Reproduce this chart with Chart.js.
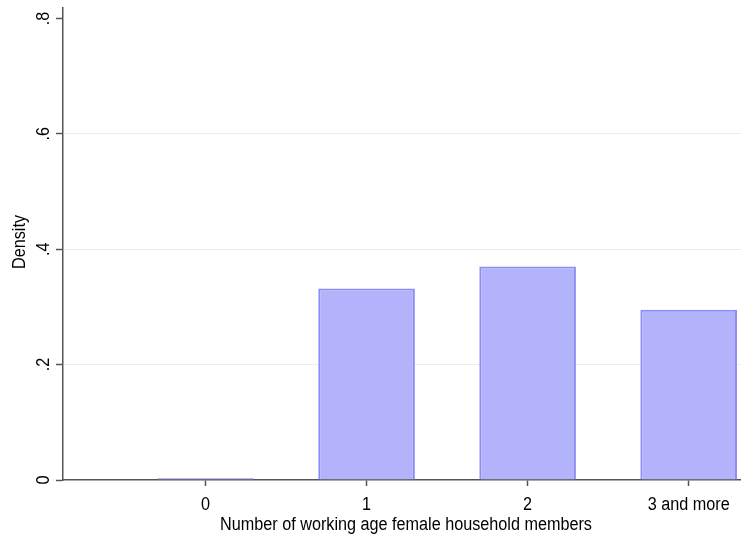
<!DOCTYPE html>
<html>
<head>
<meta charset="utf-8">
<script src="https://cdn.jsdelivr.net/npm/chart.js@4/dist/chart.umd.min.js"></script>
<style>
  html, body { margin: 0; padding: 0; background: #ffffff; }
  #wrap { width: 741px; height: 538px; }
</style>
</head>
<body>
<div id="wrap"><canvas id="c" width="741" height="538"></canvas></div>
<script>
// Share of households by number of working-age female members
const categories = ['0', '1', '2', '3 and more'];
const density = [0.003, 0.332, 0.370, 0.295];
const yTickValues = [0, 0.2, 0.4, 0.6, 0.8];
const yTickLabels = ['0', '.2', '.4', '.6', '.8'];
const xTitle = 'Number of working age female household members';
const yTitle = 'Density';

const FONT = '18px "Liberation Sans", Arial, Helvetica, sans-serif';
const SX = 0.9;          // horizontal squeeze for a narrow Helvetica look
const AXIS = '#555555';

function drawText(ctx, text, x, y, rot) {
  ctx.save();
  ctx.translate(x, y);
  ctx.rotate(rot);
  ctx.scale(SX, 1);
  ctx.textAlign = 'center';
  ctx.textBaseline = 'alphabetic';
  ctx.fillText(text, 0, 0);
  ctx.restore();
}

// Tick labels and axis titles, placed from the scales' own pixels
const textPlugin = {
  id: 'axisText',
  afterDraw(chart) {
    const xs = chart.scales.x;
    const ys = chart.scales.y;
    const ctx = chart.ctx;
    ctx.save();
    ctx.fillStyle = '#000000';
    ctx.font = FONT;
    ys.ticks.forEach((t, i) => {
      drawText(ctx, yTickLabels[i], ys.right - 14, ys.getPixelForValue(t.value), -Math.PI / 2);
    });
    xs.ticks.forEach((t, i) => {
      drawText(ctx, categories[i], xs.getPixelForValue(t.value), xs.top + 30, 0);
    });
    drawText(ctx, xTitle, (xs.left + xs.right) / 2 + 4, xs.top + 50, 0);
    drawText(ctx, yTitle, 25, (ys.top + ys.bottom) / 2 - 2, -Math.PI / 2);
    ctx.restore();
  }
};

new Chart(document.getElementById('c'), {
  type: 'bar',
  data: {
    datasets: [{
      data: density.map((v, i) => ({ x: i, y: v })),
      backgroundColor: '#b3b3fc',
      borderColor: '#8c8cf6',
      borderWidth: 2,
      barPercentage: 0.6,
      categoryPercentage: 1.0
    }]
  },
  options: {
    responsive: false,
    animation: false,
    layout: { padding: { top: 8, right: 0, bottom: 0, left: 0 } },
    plugins: { legend: { display: false }, tooltip: { enabled: false } },
    scales: {
      x: {
        type: 'linear',
        offset: false,
        min: -0.885,
        max: 3.325,
        afterBuildTicks: s => { s.ticks = categories.map((c, i) => ({ value: i })); },
        afterFit: s => { s.height = 58; },
        ticks: { display: false },
        grid: { offset: false, drawOnChartArea: false, drawTicks: true, tickLength: 6, tickColor: AXIS, tickWidth: 1.5 },
        border: { display: true, color: AXIS, width: 1.5 }
      },
      y: {
        type: 'linear',
        min: 0,
        max: 0.818,
        afterBuildTicks: s => { s.ticks = yTickValues.map(v => ({ value: v })); },
        afterFit: s => { s.width = 63; },
        ticks: { display: false },
        grid: {
          drawTicks: true,
          tickLength: 7,
          tickColor: AXIS,
          tickWidth: 1.5,
          lineWidth: 1,
          color: ctx => (ctx.tick && ctx.tick.value > 0 && ctx.tick.value < 0.7) ? '#e6eef0' : 'rgba(0,0,0,0)'
        },
        border: { display: true, color: AXIS, width: 1.5 }
      }
    }
  },
  plugins: [textPlugin]
});
</script>
</body>
</html>
